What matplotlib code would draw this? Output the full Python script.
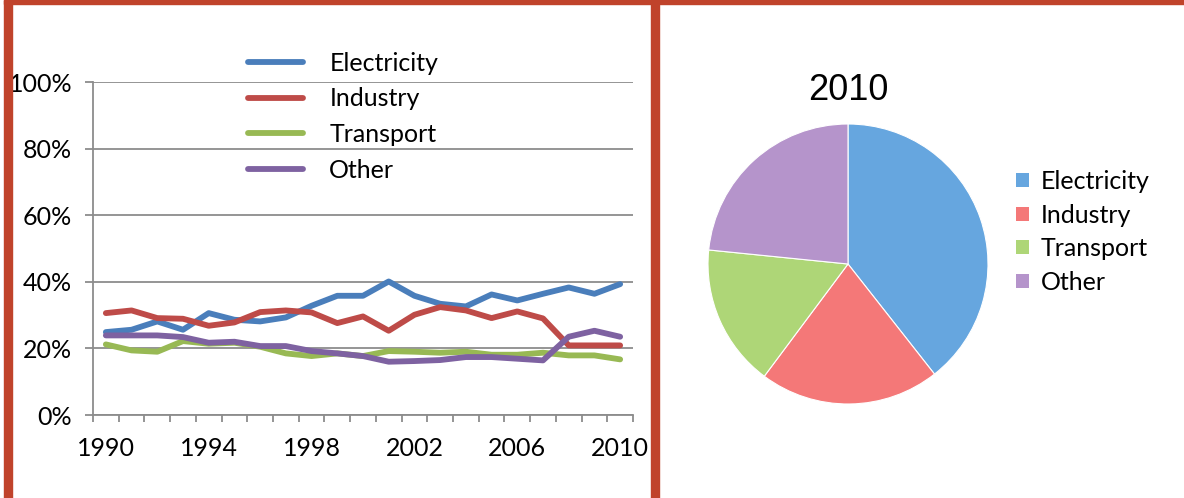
import matplotlib
matplotlib.use("Agg")
import matplotlib.pyplot as plt
from matplotlib.patches import Rectangle, Patch

plt.rcParams['font.family'] = ['Lato', 'DejaVu Sans']

years = [1990, 1991, 1992, 1993, 1994, 1995, 1996, 1997, 1998, 1999, 2000,
         2001, 2002, 2003, 2004, 2005, 2006, 2007, 2008, 2009, 2010]
tick_years = ['1990', '1994', '1998', '2002', '2006', '2010']
sectors = ['Electricity', 'Industry', 'Transport', 'Other']

electricity = [24.9, 25.6, 28.1, 25.6, 30.6, 28.6, 28.1, 29.3, 32.8, 35.8, 35.8,
               40.1, 35.8, 33.4, 32.6, 36.2, 34.4, 36.4, 38.3, 36.4, 39.3]
industry = [30.6, 31.4, 29.1, 28.9, 26.8, 27.8, 30.9, 31.4, 30.8, 27.6, 29.6,
            25.3, 30.1, 32.4, 31.4, 29.1, 31.1, 29.0, 20.9, 20.9, 20.9]
transport = [21.2, 19.4, 19.0, 22.2, 21.4, 21.7, 20.5, 18.5, 17.7, 18.5, 17.7,
             19.2, 19.0, 18.7, 19.0, 18.1, 18.1, 18.7, 17.9, 17.9, 16.7]
other = [23.9, 23.9, 23.9, 23.4, 21.7, 22.0, 20.7, 20.7, 19.2, 18.5, 17.7,
         16.0, 16.2, 16.5, 17.4, 17.4, 16.9, 16.4, 23.5, 25.3, 23.5]

pie_values = [39.4, 20.8, 16.4, 23.4]

line_colors = ['#4A7EBB', '#BE4B48', '#98B954', '#7E62A1']
pie_colors = ['#66A6DF', '#F47878', '#AED677', '#B594CB']
frame_red = '#C0432B'
grid_gray = '#8C8C8C'

W, H = 1184, 498
fig = plt.figure(figsize=(W / 100, H / 100), dpi=100)

# red frame of the slide
fig.patches.append(Rectangle((4 / W, 0), 8 / W, 1, transform=fig.transFigure,
                             color=frame_red, zorder=0))
fig.patches.append(Rectangle((651 / W, 0), 8 / W, 1, transform=fig.transFigure,
                             color=frame_red, zorder=0))
fig.patches.append(Rectangle((4 / W, 1 - 4 / H), 1, 4 / H, transform=fig.transFigure,
                             color=frame_red, zorder=0))

# line chart
ax = fig.add_axes([93 / W, 1 - 415 / H, 540 / W, 333 / H])
x = list(range(len(years)))
series = [electricity, industry, transport, other]
lines = []
for vals, col, name in zip(series, line_colors, sectors):
    ln, = ax.plot(x, vals, color=col, lw=4.2, label=name,
                  solid_joinstyle='round', solid_capstyle='round', zorder=3)
    lines.append(ln)

ax.set_xlim(-0.5, len(years) - 0.5)
ax.set_ylim(0, 100)
ax.set_yticks([0, 20, 40, 60, 80, 100])
ax.set_yticklabels(['0%', '20%', '40%', '60%', '80%', '100%'])
ax.yaxis.grid(True, color=grid_gray, lw=1.3)
ax.set_axisbelow(True)

ax.set_xticks([x[years.index(int(t))] for t in tick_years])
ax.set_xticklabels(tick_years)
ax.set_xticks([i - 0.5 for i in range(len(years) + 1)], minor=True)
ax.tick_params(axis='x', which='major', length=0, pad=16, labelsize=18)
ax.tick_params(axis='x', which='minor', length=5, width=1.3, color=grid_gray,
               direction='out')
ax.tick_params(axis='y', length=6, width=1.3, color=grid_gray, pad=9, labelsize=18)

for side in ['top', 'right']:
    ax.spines[side].set_visible(False)
for side in ['left', 'bottom']:
    ax.spines[side].set_color(grid_gray)
    ax.spines[side].set_linewidth(1.3)

fig.legend(handles=lines, loc='upper left', bbox_to_anchor=(248 / W, 1 - 52 / H),
           frameon=False, fontsize=18, borderpad=0, borderaxespad=0,
           handlelength=2.2, handletextpad=1.05, labelspacing=0.5)

# pie chart of the last year
ax2 = fig.add_axes([708 / W, 1 - 404 / H, 280 / W, 280 / H])
ax2.pie(pie_values, colors=pie_colors, startangle=90, counterclock=False,
        radius=1, wedgeprops=dict(edgecolor='white', linewidth=0.8))
ax2.set_xlim(-1, 1)
ax2.set_ylim(-1, 1)
ax2.set_aspect('equal')

fig.text(848 / W, 1 - 90 / H, '2010', ha='center', va='center',
         fontsize=26, family='Liberation Sans')

pie_handles = [Patch(facecolor=c, edgecolor='none') for c in pie_colors]
fig.legend(pie_handles, sectors, loc='upper left', bbox_to_anchor=(1016 / W, 1 - 170 / H),
           frameon=False, fontsize=18, borderpad=0, borderaxespad=0,
           handlelength=0.5, handleheight=0.5, handletextpad=0.5, labelspacing=0.42)

fig.savefig('out.png', dpi=100)
